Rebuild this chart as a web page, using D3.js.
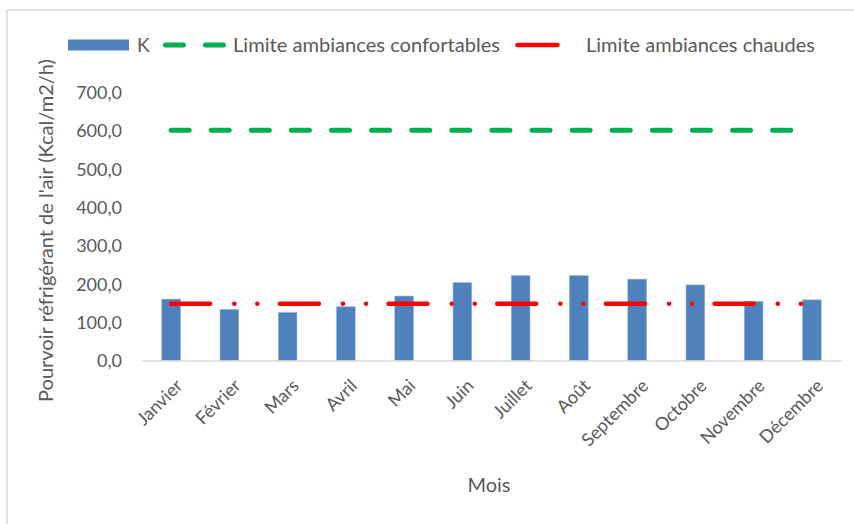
<!DOCTYPE html>
<html>
<head>
<meta charset="utf-8">
<script src="https://cdn.jsdelivr.net/npm/d3@7"></script>
<style>
  html, body { margin: 0; padding: 0; background: #fff; }
  svg { display: block; }
  text { font-family: Lato, "Open Sans", sans-serif; fill: #595959; }
</style>
</head>
<body>
<svg id="chart" width="854" height="524"></svg>
<script>
// Monthly cooling power of the air, with comfort / heat thresholds
const months = ["Janvier", "Février", "Mars", "Avril", "Mai", "Juin",
                "Juillet", "Août", "Septembre", "Octobre", "Novembre", "Décembre"];
const kValues = [160, 133, 125, 140, 168, 203, 221, 221, 212, 197, 154, 158];
const comfortLimit = [600, 600, 600, 600, 600, 600, 600, 600, 600, 600, 600, 600];
const heatLimit = [148, 148, 148, 148, 148, 148, 148, 148, 148, 148, 148, 148];
const yTicks = [0, 100, 200, 300, 400, 500, 600, 700];

const svg = d3.select("#chart");

// chart frame (top and left edges)
svg.append("line").attr("x1", 7).attr("x2", 854).attr("y1", 10).attr("y2", 10)
  .attr("stroke", "#d9d9d9").attr("stroke-width", 1.5);
svg.append("line").attr("x1", 7).attr("x2", 7).attr("y1", 10).attr("y2", 524)
  .attr("stroke", "#d9d9d9").attr("stroke-width", 1.5);

const plot = { left: 142, right: 841, top: 92, bottom: 360.5 };

const x = d3.scaleBand().domain(months)
  .range([plot.left, plot.right])
  .paddingInner(0.68).paddingOuter(0.34);
const y = d3.scaleLinear().domain([0, 700]).range([plot.bottom, plot.top]);
const cx = m => x(m) + x.bandwidth() / 2;

// y axis labels
const fmt = v => d3.format(".1f")(v).replace(".", ",");
const yAxis = d3.axisLeft(y).tickValues(yTicks).tickFormat(fmt).tickSize(0).tickPadding(0);
const gy = svg.append("g").attr("transform", `translate(${plot.left - 20},0)`).call(yAxis);
gy.select(".domain").remove();
gy.selectAll("text").style("font-family", "Lato, sans-serif").style("font-size", "18px")
  .attr("fill", "#595959").attr("dy", "0.35em");

// bars
svg.append("g").selectAll("rect").data(months).join("rect")
  .attr("x", d => x(d))
  .attr("width", x.bandwidth())
  .attr("y", (d, i) => y(kValues[i]))
  .attr("height", (d, i) => y(0) - y(kValues[i]))
  .attr("fill", "#4f81bd")
  .attr("stroke", "#8eaedc").attr("stroke-width", 0.6);

// category baseline
const xAxis = d3.axisBottom(x).tickSize(0).tickFormat("");
const gx = svg.append("g").attr("transform", `translate(0,${plot.bottom})`).call(xAxis);
gx.select(".domain").attr("stroke", "#d9d9d9").attr("stroke-width", 1.5);

// month labels, rotated
svg.append("g").selectAll("text").data(months).join("text")
  .attr("transform", d => `translate(${cx(d) + 8},${plot.bottom + 22}) rotate(-45)`)
  .attr("text-anchor", "end")
  .attr("dy", "0.35em")
  .style("font-size", "18px")
  .text(d => d);

// threshold lines
const line = vals => d3.line().x((d, i) => cx(months[i])).y(d => y(d))(vals);

svg.append("path").attr("d", line(comfortLimit))
  .attr("fill", "none").attr("stroke", "#00b050").attr("stroke-width", 5)
  .attr("stroke-linecap", "round").attr("stroke-dasharray", "18 22.1");

svg.append("path").attr("d", line(heatLimit))
  .attr("fill", "none").attr("stroke", "#ff0000").attr("stroke-width", 4.6)
  .attr("stroke-linecap", "round").attr("stroke-dasharray", "39 24.2 0 23 0 22.5");

// axis titles
svg.append("text")
  .attr("transform", `translate(46,${(plot.top + 405) / 2 - 18}) rotate(-90)`)
  .attr("text-anchor", "middle").attr("dy", "0.35em")
  .style("font-size", "20px")
  .text("Pourvoir réfrigérant de l'air (Kcal/m2/h)");

svg.append("text")
  .attr("x", 489).attr("y", 485)
  .attr("text-anchor", "middle").attr("dy", "0.35em")
  .style("font-size", "20px")
  .text("Mois");

// legend
const lg = svg.append("g");
const ly = 45;
lg.append("rect").attr("x", 68).attr("y", ly - 5.5).attr("width", 61).attr("height", 11)
  .attr("fill", "#4f81bd");
lg.append("text").attr("x", 137).attr("y", ly).attr("dy", "0.35em")
  .style("font-size", "19px").text("K");
lg.append("line").attr("x1", 165.5).attr("x2", 223.5).attr("y1", ly).attr("y2", ly)
  .attr("stroke", "#00b050").attr("stroke-width", 5)
  .attr("stroke-linecap", "round").attr("stroke-dasharray", "18 22");
lg.append("text").attr("x", 233).attr("y", ly).attr("dy", "0.35em")
  .style("font-size", "19px").attr("textLength", 267).attr("lengthAdjust", "spacingAndGlyphs")
  .text("Limite ambiances confortables");
lg.append("line").attr("x1", 517.5).attr("x2", 557.5).attr("y1", ly).attr("y2", ly)
  .attr("stroke", "#ff0000").attr("stroke-width", 4.6).attr("stroke-linecap", "round");
lg.append("text").attr("x", 586).attr("y", ly).attr("dy", "0.35em")
  .style("font-size", "19px").attr("textLength", 229).attr("lengthAdjust", "spacingAndGlyphs")
  .text("Limite ambiances chaudes");
</script>
</body>
</html>
